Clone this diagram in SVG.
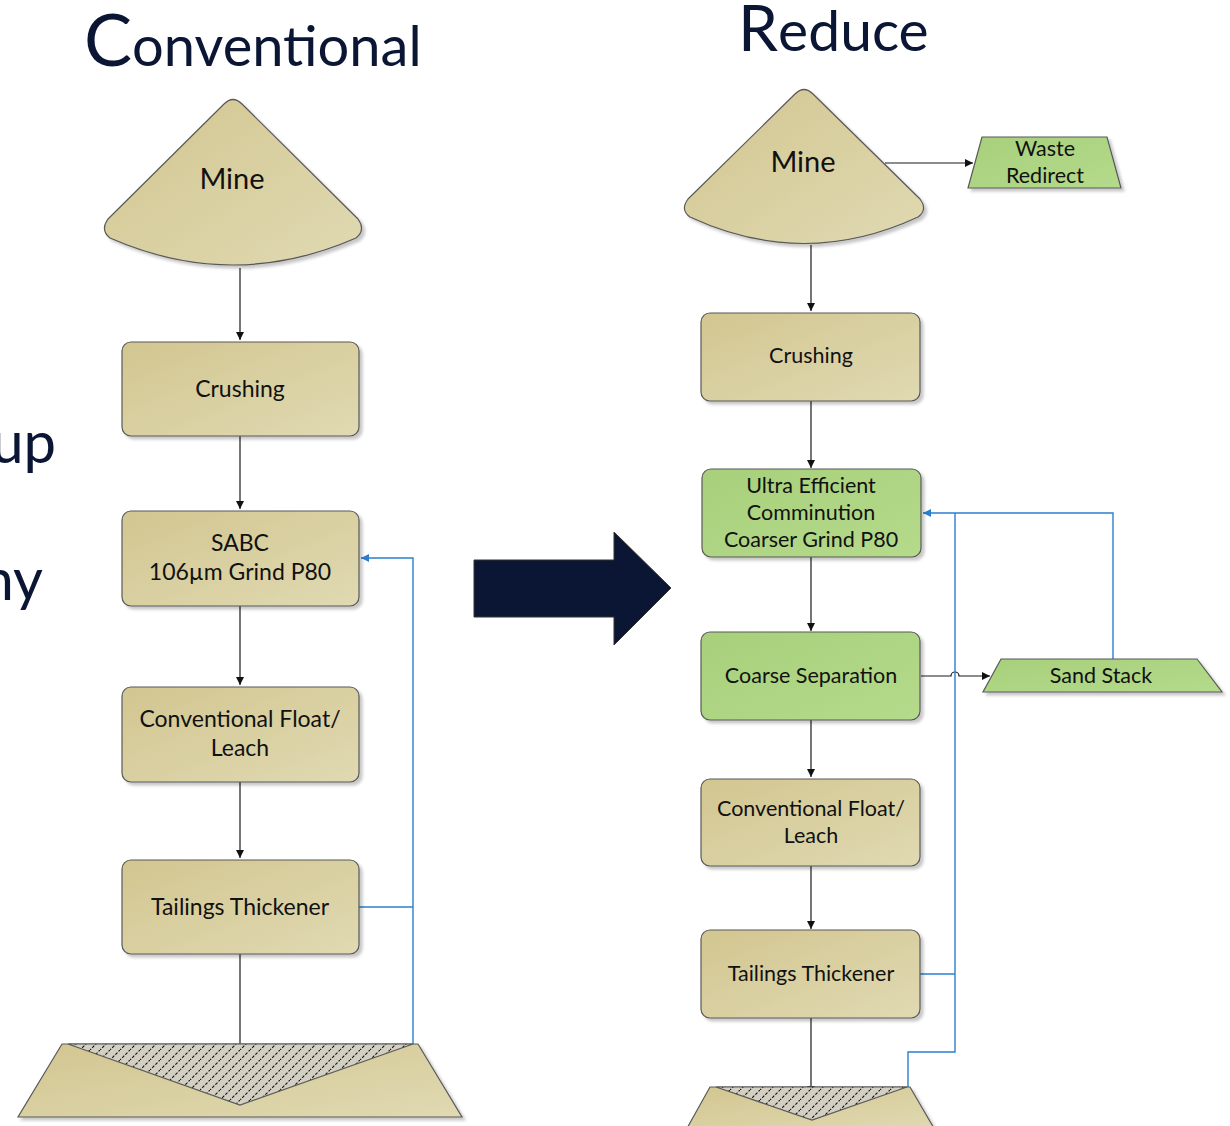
<svg xmlns="http://www.w3.org/2000/svg" width="1230" height="1126" viewBox="0 0 1230 1126">
<style>
.tan{fill:url(#gTan);stroke:#595959;stroke-width:1.2;filter:url(#sh)}
.grn{fill:url(#gGrn);stroke:#595959;stroke-width:1.2;filter:url(#sh)}
.hat{fill:url(#hatch);stroke:#595959;stroke-width:1.2}
.t{font-family:Lato,"Liberation Sans",sans-serif;font-size:23px;fill:#111;text-anchor:middle}
.r{font-size:21.5px}
.big{font-family:Lato,"Liberation Sans",sans-serif;font-size:29px;fill:#111;text-anchor:middle}
.ttl{font-family:Lato,"Liberation Sans",sans-serif;fill:#0a1633}
.blk{fill:none;stroke:#1a1a1a;stroke-width:1.2}
.blu{fill:none;stroke:#2a7fd0;stroke-width:1.4}
</style>
<defs>
<linearGradient id="gTan" x1="0" y1="0" x2="1" y2="1">
<stop offset="0" stop-color="#d2c690"/><stop offset="1" stop-color="#e0d9b2"/>
</linearGradient>
<linearGradient id="gGrn" x1="0" y1="0" x2="1" y2="1">
<stop offset="0" stop-color="#a8d07b"/><stop offset="1" stop-color="#b4da8b"/>
</linearGradient>
<pattern id="hatch" patternUnits="userSpaceOnUse" width="10" height="10">
<rect width="10" height="10" fill="#d3d0c3"/>
<path d="M-1,11 L11,-1" stroke="#111" stroke-width="1.1" stroke-dasharray="3 1.5"/>
</pattern>
<filter id="sh" x="-10%" y="-10%" width="130%" height="130%">
<feDropShadow dx="3" dy="3" stdDeviation="1.5" flood-color="#000" flood-opacity="0.22"/>
</filter>
<marker id="ab" viewBox="0 0 10 10" refX="10" refY="5" markerWidth="8" markerHeight="8" markerUnits="userSpaceOnUse" orient="auto">
<path d="M0,0 L10,5 L0,10 Z" fill="#111"/>
</marker>
<marker id="au" viewBox="0 0 10 10" refX="10" refY="5" markerWidth="8" markerHeight="8" markerUnits="userSpaceOnUse" orient="auto">
<path d="M0,0 L10,5 L0,10 Z" fill="#2a7fd0"/>
</marker>
</defs>

<!-- Titles and side text -->
<g id="titles">
<text class="ttl" x="84" y="66"><tspan font-size="72">C</tspan><tspan font-size="56">onventional</tspan></text>
<text class="ttl" x="738" y="51"><tspan font-size="64">R</tspan><tspan font-size="57">educe</tspan></text>
<text class="ttl" x="56" y="463" font-size="58" text-anchor="end">up</text>
<text class="ttl" x="43" y="600" font-size="58" text-anchor="end">ny</text>
</g>

<g id="bigArrow">
<path d="M474,560 L614,560 L614,532 L671,588 L614,645 L614,617 L474,617 Z" fill="#0a1633" stroke="#333" stroke-width="1"/>
</g>

<!-- Connectors -->
<g id="connectors">
<line class="blk" x1="240" y1="268" x2="240" y2="340" marker-end="url(#ab)"/>
<line class="blk" x1="240" y1="436" x2="240" y2="509" marker-end="url(#ab)"/>
<line class="blk" x1="240" y1="606" x2="240" y2="685" marker-end="url(#ab)"/>
<line class="blk" x1="240" y1="782" x2="240" y2="858" marker-end="url(#ab)"/>
<line class="blk" x1="240" y1="954" x2="240" y2="1046"/>
<path class="blu" d="M359,907 L413,907"/>
<path class="blu" d="M413,1044 L413,558 L361,558" marker-end="url(#au)"/>

<line class="blk" x1="885" y1="163" x2="973" y2="163" marker-end="url(#ab)"/>
<line class="blk" x1="811" y1="245" x2="811" y2="311" marker-end="url(#ab)"/>
<line class="blk" x1="811" y1="401" x2="811" y2="468" marker-end="url(#ab)"/>
<line class="blk" x1="811" y1="557" x2="811" y2="631" marker-end="url(#ab)"/>
<line class="blk" x1="811" y1="720" x2="811" y2="777" marker-end="url(#ab)"/>
<line class="blk" x1="811" y1="866" x2="811" y2="929" marker-end="url(#ab)"/>
<line class="blk" x1="811" y1="1018" x2="811" y2="1094" marker-end="url(#ab)"/>
<path class="blk" d="M921,676 L951,676 A4,4 0 0 1 959,676 L990,676" marker-end="url(#ab)"/>
<path class="blu" d="M920,974 L955,974"/>
<path class="blu" d="M908,1087 L908,1052 L955,1052 L955,513"/>
<path class="blu" d="M1113,659 L1113,513 L923,513" marker-end="url(#au)"/>
</g>

<!-- Left column nodes -->
<g id="mineL">
<path class="tan" d="M108,219 L224,104 Q233,95 242,104 L358,219 Q366,230 356,238 Q233,292 110,238 Q100,230 108,219 Z"/>
<text class="big" x="232" y="189">Mine</text>
</g>
<g id="crushL">
<rect class="tan" x="122" y="342" width="237" height="94" rx="9"/>
<text class="t" x="240" y="397">Crushing</text>
</g>
<g id="sabc">
<rect class="tan" x="122" y="511" width="237" height="95" rx="9"/>
<text class="t" x="240" y="551">SABC</text>
<text class="t" x="240" y="580">106µm Grind P80</text>
</g>
<g id="floatL">
<rect class="tan" x="122" y="687" width="237" height="95" rx="9"/>
<text class="t" x="240" y="727">Conventional Float/</text>
<text class="t" x="240" y="756">Leach</text>
</g>
<g id="thickL">
<rect class="tan" x="122" y="860" width="237" height="94" rx="9"/>
<text class="t" x="240" y="915">Tailings Thickener</text>
</g>
<g id="damL">
<polygon class="tan" points="62,1044 418,1044 462,1117 18,1117"/>
<polygon class="hat" points="68,1044 413,1044 240,1105"/>
</g>

<!-- Right column nodes -->
<g id="mineR">
<path class="tan" d="M688,199 L795,94 Q804,85 813,94 L920,199 Q928,210 918,217 Q804,270 690,217 Q680,210 688,199 Z"/>
<text class="big" x="803" y="172">Mine</text>
</g>
<g id="waste">
<polygon class="grn" points="982,137 1107,137 1121,188 968,188"/>
<text class="t r" x="1045" y="156">Waste</text>
<text class="t r" x="1045" y="183">Redirect</text>
</g>
<g id="crushR">
<rect class="tan" x="701" y="313" width="219" height="88" rx="9"/>
<text class="t r" x="811" y="363">Crushing</text>
</g>
<g id="ultra">
<rect class="grn" x="702" y="469" width="219" height="88" rx="9"/>
<text class="t r" x="811" y="493">Ultra Efficient</text>
<text class="t r" x="811" y="520">Comminution</text>
<text class="t r" x="811" y="547">Coarser Grind P80</text>
</g>
<g id="coarse">
<rect class="grn" x="701" y="632" width="219" height="88" rx="9"/>
<text class="t r" x="811" y="683">Coarse Separation</text>
</g>
<g id="sand">
<polygon class="grn" points="1001,659 1197,659 1222,692 983,692"/>
<text class="t r" x="1101" y="683">Sand Stack</text>
</g>
<g id="floatR">
<rect class="tan" x="701" y="779" width="219" height="87" rx="9"/>
<text class="t r" x="811" y="816">Conventional Float/</text>
<text class="t r" x="811" y="843">Leach</text>
</g>
<g id="thickR">
<rect class="tan" x="701" y="930" width="219" height="88" rx="9"/>
<text class="t r" x="811" y="981">Tailings Thickener</text>
</g>
<g id="damR">
<polygon class="tan" points="710,1087 910,1087 935,1130 686,1130"/>
<polygon class="hat" points="716,1087 907,1087 812,1120"/>
</g>
</svg>
